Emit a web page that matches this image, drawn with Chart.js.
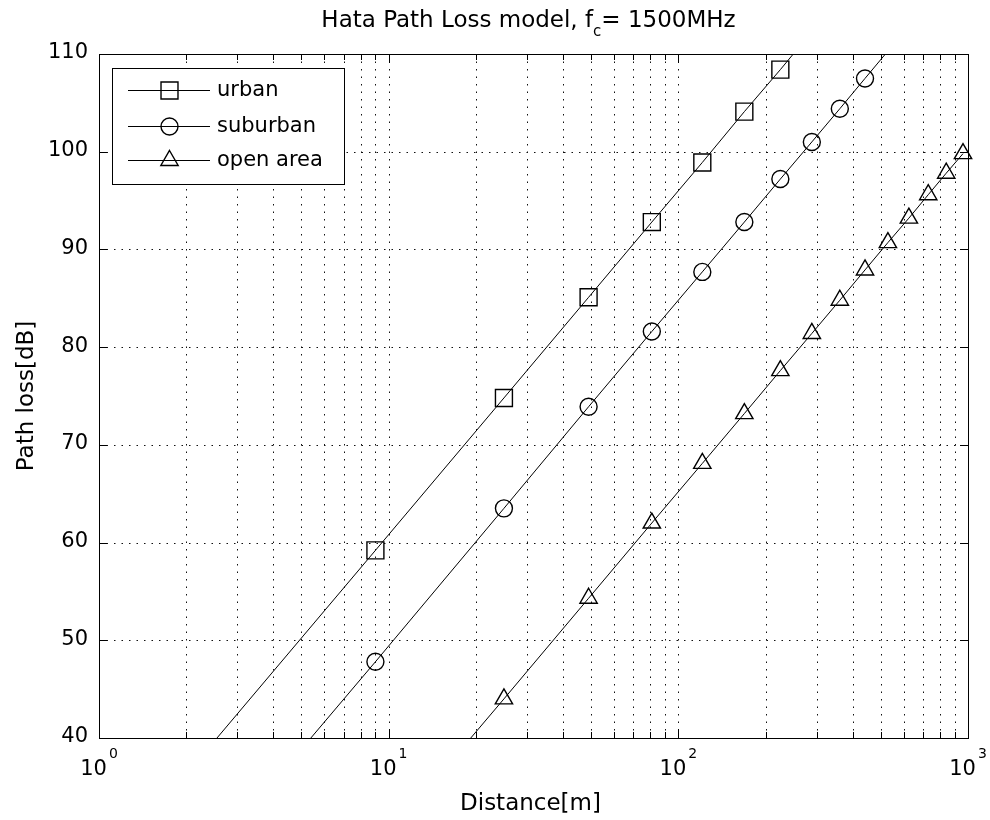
<!DOCTYPE html>
<html>
<head>
<meta charset="utf-8">
<title>Hata Path Loss model</title>
<script src="https://cdn.jsdelivr.net/npm/chart.js@4.4.1/dist/chart.umd.min.js"></script>
<style>
  html, body { margin: 0; padding: 0; background: #fff; }
  #wrap { width: 990px; height: 820px; }
</style>
</head>
<body>
<div id="wrap"><canvas id="hataChart"></canvas></div>
<script>
// distances are odd squares
const distances = [1, 9, 25, 49, 81, 121, 169, 225, 289, 361, 441, 529, 625, 729, 841, 961];
const urbanLoss = [25.7, 59.2, 74.8, 85.1, 92.8, 98.9, 104.1, 108.4, 112.3, 115.7, 118.8, 121.6, 124.1, 126.5, 128.7, 130.7];
const suburbanLoss = [14.4, 47.8, 63.5, 73.9, 81.6, 87.7, 92.8, 97.2, 101.0, 104.4, 107.5, 110.3, 112.8, 115.2, 117.4, 119.4];
const openAreaLoss = [-5.1, 28.5, 44.0, 54.3, 62.0, 68.1, 73.2, 77.6, 81.4, 84.8, 87.9, 90.7, 93.2, 95.6, 97.8, 99.8];
const seriesNames = ['urban', 'suburban', 'open area'];
const xTickValues = [1, 10, 100, 1000];
const xTickExponents = ['0', '1', '2', '3'];
const yTickValues = [40, 50, 60, 70, 80, 90, 100, 110];

const FONT = '"DejaVu Sans", sans-serif';
const Y_MIN = 40, Y_MAX = 110;
const crisp = (v) => Math.round(v) + 0.5;

const toPoints = (vals) => distances.map((d, i) => ({ x: d, y: vals[i] }));

// markers outside the axis limits are not drawn (like matlab)
const markerSize = (r) => (c) => {
  const v = c.raw && c.raw.y;
  return v > Y_MAX || v < Y_MIN ? 0 : r;
};

function drawMarker(ctx, style, r, x, y) {
  ctx.beginPath();
  if (style === 'rect') {
    const s = Math.SQRT1_2 * r;
    ctx.rect(x - s, y - s, 2 * s, 2 * s);
  } else if (style === 'circle') {
    ctx.arc(x, y, r, 0, Math.PI * 2);
  } else {
    ctx.moveTo(x, y - r);
    ctx.lineTo(x + r * Math.sqrt(3) / 2, y + r / 2);
    ctx.lineTo(x - r * Math.sqrt(3) / 2, y + r / 2);
    ctx.closePath();
  }
  ctx.stroke();
}

const matlabAxes = {
  id: 'matlabAxes',
  beforeDatasetsDraw(chart) {
    const { ctx, chartArea: a, scales: { x, y } } = chart;
    ctx.save();
    ctx.strokeStyle = '#111';
    ctx.lineWidth = 1;
    ctx.setLineDash([1.5, 6]);
    ctx.beginPath();
    // log grid: every 1..9 of each decade
    for (let dec = 1; dec < 1000; dec *= 10) {
      for (let m = 1; m < 10; m++) {
        const v = dec * m;
        if (v <= x.min || v >= x.max) continue;
        const px = crisp(x.getPixelForValue(v));
        ctx.moveTo(px, a.bottom);
        ctx.lineTo(px, a.top);
      }
    }
    yTickValues.forEach((v) => {
      if (v <= y.min || v >= y.max) return;
      const py = crisp(y.getPixelForValue(v));
      ctx.moveTo(a.left, py);
      ctx.lineTo(a.right, py);
    });
    ctx.stroke();
    ctx.restore();
  },
  afterDatasetsDraw(chart) {
    const { ctx, chartArea: a, scales: { x, y } } = chart;
    ctx.save();
    ctx.strokeStyle = '#000';
    ctx.lineWidth = 1;
    ctx.setLineDash([]);

    // box
    ctx.strokeRect(crisp(a.left), crisp(a.top), Math.round(a.right - a.left), Math.round(a.bottom - a.top));

    // ticks, pointing inward on all four sides
    ctx.beginPath();
    for (let dec = 1; dec < 1000; dec *= 10) {
      for (let m = 1; m < 10; m++) {
        const v = dec * m;
        const len = m === 1 ? 9 : 6;
        const px = crisp(x.getPixelForValue(v));
        ctx.moveTo(px, a.bottom); ctx.lineTo(px, a.bottom - len);
        ctx.moveTo(px, a.top); ctx.lineTo(px, a.top + len);
      }
    }
    yTickValues.forEach((v) => {
      const py = crisp(y.getPixelForValue(v));
      ctx.moveTo(a.left, py); ctx.lineTo(a.left + 8, py);
      ctx.moveTo(a.right, py); ctx.lineTo(a.right - 8, py);
    });
    ctx.stroke();

    ctx.fillStyle = '#000';

    // y tick labels
    ctx.font = '21px ' + FONT;
    ctx.textAlign = 'right';
    ctx.textBaseline = 'middle';
    yTickValues.forEach((v) => ctx.fillText(String(v), a.left - 11, y.getPixelForValue(v) - 1));

    // x tick labels 10^n
    ctx.textBaseline = 'alphabetic';
    ctx.textAlign = 'left';
    xTickValues.forEach((v, i) => {
      const px = x.getPixelForValue(v);
      ctx.font = '21px ' + FONT;
      const wBase = ctx.measureText('10').width;
      ctx.font = '14px ' + FONT;
      const wExp = ctx.measureText(xTickExponents[i]).width;
      const start = px - (wBase + 2 + wExp) / 2;
      ctx.font = '21px ' + FONT;
      ctx.fillText('10', start, 775);
      ctx.font = '14px ' + FONT;
      ctx.fillText(xTickExponents[i], start + wBase + 2, 758);
    });

    // axis titles
    ctx.font = '23px ' + FONT;
    ctx.textAlign = 'center';
    ctx.fillText('Distance[m]', (a.left + a.right) / 2 - 3, 810);
    ctx.save();
    ctx.translate(33, (a.top + a.bottom) / 2);
    ctx.rotate(-Math.PI / 2);
    ctx.fillText('Path loss[dB]', 0, 0);
    ctx.restore();

    // title with subscript
    const t1 = 'Hata Path Loss model, f', sub = 'c', t2 = '= 1500MHz';
    ctx.textAlign = 'left';
    ctx.font = '23px ' + FONT;
    const w1 = ctx.measureText(t1).width, w2 = ctx.measureText(t2).width;
    ctx.font = '15px ' + FONT;
    const ws = ctx.measureText(sub).width;
    let tx = (a.left + a.right) / 2 - 5 - (w1 + ws + w2) / 2;
    ctx.font = '23px ' + FONT;
    ctx.fillText(t1, tx, 27);
    ctx.font = '15px ' + FONT;
    ctx.fillText(sub, tx + w1, 36);
    ctx.font = '23px ' + FONT;
    ctx.fillText(t2, tx + w1 + ws, 27);

    // legend
    const lg = { left: 112, top: 68, right: 344, bottom: 184 };
    ctx.fillStyle = '#fff';
    ctx.fillRect(lg.left, lg.top, lg.right - lg.left, lg.bottom - lg.top);
    ctx.strokeRect(crisp(lg.left), crisp(lg.top), lg.right - lg.left, lg.bottom - lg.top);
    const rows = [90, 126, 160];
    ctx.fillStyle = '#000';
    ctx.font = '21px ' + FONT;
    ctx.textBaseline = 'middle';
    chart.data.datasets.forEach((ds, i) => {
      const ry = crisp(rows[i]);
      ctx.lineWidth = 1;
      ctx.beginPath();
      ctx.moveTo(128, ry); ctx.lineTo(210, ry);
      ctx.stroke();
      ctx.lineWidth = ds.pointBorderWidth;
      drawMarker(ctx, ds.pointStyle, ds.markerRadius, 169.5, ry);
      ctx.fillText(ds.label, 217, rows[i] + 1);
    });
    ctx.restore();
  }
};

const baseSet = {
  borderColor: '#000',
  borderWidth: 1,
  pointBorderColor: '#000',
  pointBackgroundColor: 'rgba(0,0,0,0)',
  pointBorderWidth: 1.4,
  tension: 0,
  clip: { left: 0, top: 0, right: 15, bottom: 0 }
};

new Chart(document.getElementById('hataChart'), {
  type: 'line',
  data: {
    datasets: [
      { ...baseSet, label: seriesNames[0], data: toPoints(urbanLoss), pointStyle: 'rect', markerRadius: 12, pointRadius: markerSize(12) },
      { ...baseSet, label: seriesNames[1], data: toPoints(suburbanLoss), pointStyle: 'circle', markerRadius: 8.5, pointRadius: markerSize(8.5) },
      { ...baseSet, label: seriesNames[2], data: toPoints(openAreaLoss), pointStyle: 'triangle', markerRadius: 10, pointRadius: markerSize(10) }
    ]
  },
  options: {
    responsive: true,
    maintainAspectRatio: false,
    animation: false,
    layout: { padding: { left: 99, top: 54, right: 22, bottom: 82 } },
    plugins: { legend: { display: false }, tooltip: { enabled: false }, title: { display: false } },
    scales: {
      x: { type: 'logarithmic', min: 1, max: 1000, display: false },
      y: { type: 'linear', min: Y_MIN, max: Y_MAX, display: false }
    },
    elements: { point: { hoverRadius: 0 } }
  },
  plugins: [matlabAxes]
});
</script>
</body>
</html>
